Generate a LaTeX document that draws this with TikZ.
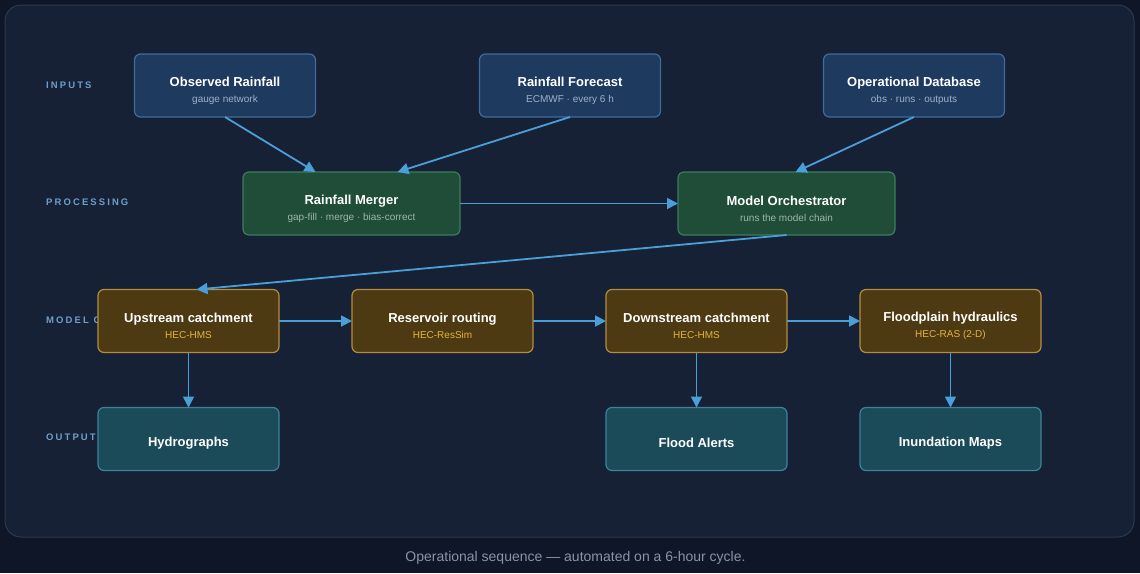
\documentclass[tikz,border=0pt]{standalone}
\usepackage{fontspec}
\setmainfont{Liberation Sans}
\usetikzlibrary{positioning,arrows.meta}

\definecolor{bgout}{HTML}{0E1628}
\definecolor{panel}{HTML}{172136}
\definecolor{panelline}{HTML}{2C3952}
\definecolor{lanecol}{HTML}{6E9ECC}
\definecolor{arrowcol}{HTML}{4A9FD8}
\definecolor{infill}{HTML}{1E3A5F}
\definecolor{inedge}{HTML}{3E6C9C}
\definecolor{insub}{HTML}{9DB2C9}
\definecolor{procfill}{HTML}{1F4D38}
\definecolor{procedge}{HTML}{3B7D5C}
\definecolor{procsub}{HTML}{9DB8A8}
\definecolor{modfill}{HTML}{4D3A13}
\definecolor{modedge}{HTML}{B38D3E}
\definecolor{modsub}{HTML}{E2B43F}
\definecolor{outfill}{HTML}{1B4A59}
\definecolor{outedge}{HTML}{3C8299}
\definecolor{captcol}{HTML}{8A94A6}

\newcommand{\twolines}[2]{\rule{0pt}{20pt}{\fontsize{13}{15}\selectfont\bfseries #1}\\[3pt]{\color{subc}#2}}

\begin{document}
\begin{tikzpicture}[
x=1pt,y=-1pt,
box/.style={draw,rounded corners=6pt,line width=1.2pt,minimum width=181pt,minimum height=63pt,
  align=center,text=white,outer sep=0pt,inner sep=0pt,font=\fontsize{10}{13}\selectfont},
inbox/.style={box,fill=infill,draw=inedge,execute at begin node=\colorlet{subc}{insub}},
procbox/.style={box,minimum width=217pt,fill=procfill,draw=procedge,execute at begin node=\colorlet{subc}{procsub}},
modbox/.style={box,fill=modfill,draw=modedge,execute at begin node=\colorlet{subc}{modsub}},
outbox/.style={box,fill=outfill,draw=outedge,font=\fontsize{13}{15}\selectfont\bfseries,
  execute at begin node=\rule{0pt}{18pt}},
lane/.style={text=lanecol,anchor=west,inner sep=0pt,
  font={\fontsize{9.5}{10}\selectfont\bfseries\addfontfeature{LetterSpace=22}}},
flow/.style={draw=arrowcol,line width=1.8pt,-{Triangle[length=11pt,width=11pt]}}
]

\useasboundingbox (0,0) rectangle (1140,573);
\fill[bgout] (0,0) rectangle (1140,573);
\filldraw[fill=panel,draw=panelline,line width=1pt,rounded corners=16pt] (5,5) rectangle (1134,537);

% lanes
\node[lane] (lin) at (46,85.5) {INPUTS};
\node[lane] (lproc) at (46,202.5) {PROCESSING};
\node[lane] (lmod) at (46,320.5) {MODEL CHAIN};
\node[lane] (lout) at (46,437.5) {OUTPUTS};

% inputs
\node[inbox] (obs) at (225,85.5) {\twolines{Observed Rainfall}{gauge network}};
\node[inbox,right=164pt of obs] (fcst) {\twolines{Rainfall Forecast}{ECMWF · every 6 h}};
\node[inbox,right=163pt of fcst] (db) {\twolines{Operational Database}{obs · runs · outputs}};

% processing
\node[procbox] (merge) at (351.5,203.5) {\twolines{Rainfall Merger}{gap-fill · merge · bias-correct}};
\node[procbox,right=218pt of merge] (orch) {\twolines{Model Orchestrator}{runs the model chain}};

% model chain
\node[modbox] (up) at (188.5,321) {\twolines{Upstream catchment}{HEC-HMS}};
\node[modbox,right=73pt of up] (res) {\twolines{Reservoir routing}{HEC-ResSim}};
\node[modbox,right=73pt of res] (down) {\twolines{Downstream catchment}{HEC-HMS}};
\node[modbox,right=73pt of down] (flood) {\twolines{Floodplain hydraulics}{HEC-RAS (2-D)}};

% outputs
\node[outbox,below=55pt of up] (hyd) {Hydrographs};
\node[outbox,below=55pt of down] (alert) {Flood Alerts};
\node[outbox,below=55pt of flood] (inund) {Inundation Maps};

\draw[flow] (obs.south) -- ([xshift=-36pt]merge.north);
\draw[flow] (fcst.south) -- ([xshift=46pt]merge.north);
\draw[flow] (db.south) -- ([xshift=9pt]orch.north);
\draw[flow] (merge.east) -- (orch.west);
\draw[flow] (orch.south) -- ([xshift=8pt]up.north);
\draw[flow] (up.east) -- (res.west);
\draw[flow] (res.east) -- (down.west);
\draw[flow] (down.east) -- (flood.west);
\draw[flow] (up.south) -- (hyd.north);
\draw[flow] (down.south) -- (alert.north);
\draw[flow] (flood.south) -- (inund.north);

\node[text=captcol,font=\fontsize{14}{16}\selectfont] (cap) at (575.5,557.5)
  {Operational sequence — automated on a 6-hour cycle.};

\end{tikzpicture}
\end{document}
